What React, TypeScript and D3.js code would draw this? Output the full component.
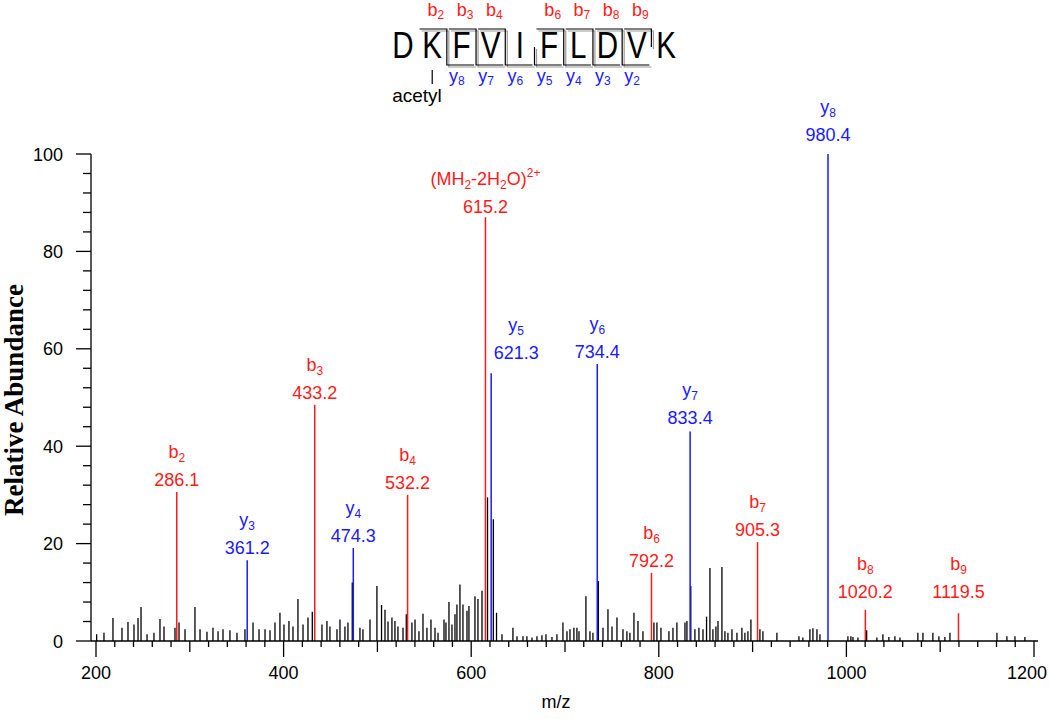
import React, { useEffect, useRef } from 'react';
import * as d3 from 'd3';

// peptide + fragment map
const sequence = ["D", "K", "F", "V", "I", "F", "L", "D", "V", "K"];
const bBreaks = [2, 3, 4, 6, 7, 8, 9];
const yBreaks = [2, 3, 4, 5, 6, 7, 8];

// annotated b ions
const bIonNames = ["b2", "b3", "b4", "b6", "b7", "b8", "b9"];
const bIonMz = [286.1, 433.2, 532.2, 792.2, 905.3, 1020.2, 1119.5];
const bIonAbundance = [30.6, 48.5, 30.0, 14.0, 20.3, 6.4, 5.7];

// annotated y ions
const yIonNames = ["y3", "y4", "y5", "y6", "y7", "y8"];
const yIonMz = [361.2, 474.3, 621.3, 734.4, 833.4, 980.4];
const yIonAbundance = [16.6, 19.1, 55.0, 56.9, 43.0, 100];

// doubly charged precursor - 2 H2O
const precursorMz = 615.2;
const precursorAbundance = 87.0;

// unannotated peaks
const noiseMz = [
  200.7, 208.5, 218.1, 227.7, 234.1, 240.5, 244.8, 248.0, 254.4, 261.8, 268.2, 272.5, 284.2, 288.5,
  294.9, 305.5, 310.9, 318.3, 324.7, 330.1, 335.4, 342.8, 350.3, 358.8, 367.4, 373.8, 380.2, 385.5,
  390.8, 396.1, 400.4, 405.7, 410.0, 415.3, 420.7, 426.0, 430.6, 440.9, 446.2, 449.4, 456.9, 460.1,
  465.4, 468.6, 473.2, 481.4, 484.6, 492.1, 499.5, 504.4, 508.1, 511.3, 515.5, 518.7, 521.9, 527.3,
  530.8, 536.8, 540.1, 544.3, 548.6, 552.8, 557.1, 561.4, 564.6, 571.0, 573.1, 576.3, 579.5, 582.7,
  584.8, 588.0, 591.2, 595.5, 597.6, 604.0, 607.2, 611.5, 617.4, 623.6, 627.0, 632.8, 644.5, 648.8,
  655.2, 659.4, 664.8, 670.1, 675.4, 679.7, 686.1, 691.4, 697.8, 702.1, 705.3, 709.5, 712.7, 714.9,
  722.3, 726.6, 729.8, 735.6, 740.5, 745.8, 750.1, 755.4, 761.8, 766.0, 769.2, 773.5, 777.8, 783.1,
  794.8, 798.0, 802.3, 810.8, 815.1, 819.3, 827.9, 830.0, 834.1, 838.5, 842.8, 847.1, 850.9, 854.5,
  857.7, 860.9, 863.1, 867.3, 870.5, 873.7, 878.0, 883.3, 888.6, 891.8, 895.0, 898.2, 907.8, 911.0,
  925.9, 949.4, 953.6, 961.1, 964.3, 968.6, 971.8, 1001.6, 1004.8, 1007.0, 1012.3, 1021.6, 1032.5,
  1038.9, 1045.3, 1051.7, 1057.1, 1076.2, 1081.6, 1092.2, 1098.6, 1105.0, 1110.4, 1160.5, 1171.1,
  1179.7, 1190.3,
];
const noiseAbundance = [
  1.4, 1.7, 4.7, 2.7, 3.9, 3.4, 4.7, 7.0, 1.4, 1.7, 4.5, 3.0, 2.7, 3.8,
  2.4, 7.0, 2.4, 1.9, 2.7, 2.0, 2.4, 2.2, 1.7, 2.4, 3.8, 2.4, 2.4, 2.2,
  3.8, 5.8, 3.4, 4.1, 3.0, 8.6, 3.4, 4.8, 6.0, 3.4, 4.1, 3.0, 2.4, 4.4,
  3.0, 3.8, 12.0, 2.7, 2.4, 4.4, 11.3, 7.4, 6.4, 4.0, 4.8, 4.1, 3.0, 2.7,
  5.5, 3.8, 4.4, 2.0, 5.6, 2.7, 4.4, 2.7, 1.7, 4.4, 3.8, 8.0, 3.4, 5.5,
  7.5, 11.6, 7.5, 6.2, 7.2, 9.2, 8.6, 10.3, 29.5, 25.0, 5.8, 1.4, 2.7, 1.0,
  1.0, 1.0, 0.7, 1.0, 1.2, 1.4, 0.8, 1.4, 3.8, 2.0, 2.4, 2.7, 2.7, 2.0,
  9.2, 2.0, 1.7, 12.3, 2.7, 6.5, 3.0, 4.8, 2.4, 2.0, 1.7, 5.8, 4.1, 2.0,
  3.8, 3.8, 2.7, 2.0, 2.7, 3.8, 3.8, 4.1, 11.3, 2.4, 2.7, 2.4, 5.0, 15.0,
  2.4, 3.0, 4.1, 15.2, 2.0, 1.7, 2.4, 1.7, 2.7, 1.7, 2.0, 4.4, 2.4, 2.0,
  1.7, 1.0, 0.7, 2.4, 2.6, 2.4, 1.4, 1.0, 1.0, 0.8, 0.7, 2.2, 0.7,
  1.4, 0.8, 1.0, 0.7, 1.7, 1.7, 1.7, 1.0, 0.8, 1.7, 1.7, 1.0,
  1.0, 0.8,
];

const xTicks = [200, 400, 600, 800, 1000, 1200];
const yTicks = [0, 20, 40, 60, 80, 100];

const RED = "#ff1a1a";
const BLUE = "#1a1aff";
const SANS = "'Liberation Sans', Arial, sans-serif";

// label nudges (collision avoidance in the original)
const labelNudge: Record<string, [number, number]> = {
  y5: [25, -8],
  y7: [0, -2],
  y8: [0, -7],
  pre: [0, 2],
};

export default function App() {
  const svgRef = useRef<SVGSVGElement>(null);

  useEffect(() => {
    if (!svgRef.current) return;
    const svg = d3.select(svgRef.current);
    svg.selectAll("*").remove();

    const x = d3.scaleLinear().domain([200, 1200]).range([96, 1034]);
    const y = d3.scaleLinear().domain([0, 100]).range([641, 154]);
    const axisX = 91;

    // noise peaks
    const noise = noiseMz.map((m, i) => ({ m, a: noiseAbundance[i] }));
    svg.append("g")
      .selectAll("line")
      .data(noise)
      .join("line")
      .attr("x1", d => x(d.m)).attr("x2", d => x(d.m))
      .attr("y1", y(0)).attr("y2", d => y(d.a))
      .attr("stroke", "#000").attr("stroke-width", 1.3);

    type Ion = { name: string; m: number; a: number; color: string };
    const ions: Ion[] = [
      ...bIonNames.map((n, i) => ({ name: n, m: bIonMz[i], a: bIonAbundance[i], color: RED })),
      ...yIonNames.map((n, i) => ({ name: n, m: yIonMz[i], a: yIonAbundance[i], color: BLUE })),
      { name: "pre", m: precursorMz, a: precursorAbundance, color: RED },
    ];

    svg.append("g")
      .selectAll("line")
      .data(ions)
      .join("line")
      .attr("x1", d => x(d.m)).attr("x2", d => x(d.m))
      .attr("y1", y(0)).attr("y2", d => y(d.a))
      .attr("stroke", d => d.color).attr("stroke-width", 1.5);

    // labels
    const lab = svg.append("g").attr("font-family", SANS).attr("font-size", 18).attr("text-anchor", "middle");
    ions.forEach(d => {
      const [dx, dy] = labelNudge[d.name] || [0, 0];
      const cx = x(d.m) + dx;
      const base = Math.min(y(d.a) - 6, y(10) + 6) + dy;
      lab.append("text").attr("x", cx).attr("y", base).attr("fill", d.color).text(d.m.toFixed(1));
      const t = lab.append("text").attr("x", cx).attr("y", base - 28).attr("fill", d.color);
      if (d.name === "pre") {
        t.append("tspan").text("(MH");
        t.append("tspan").attr("font-size", 12).attr("dy", 4).text("2");
        t.append("tspan").attr("dy", -4).text("-2H");
        t.append("tspan").attr("font-size", 12).attr("dy", 4).text("2");
        t.append("tspan").attr("dy", -4).text("O)");
        t.append("tspan").attr("font-size", 12).attr("dy", -8).text("2+");
      } else {
        t.append("tspan").text(d.name[0]);
        t.append("tspan").attr("font-size", 12).attr("dy", 4).text(d.name.slice(1));
      }
    });

    // y axis
    const ya = svg.append("g").attr("stroke", "#000").attr("stroke-width", 1.3);
    ya.append("line").attr("x1", axisX).attr("x2", axisX).attr("y1", y(100)).attr("y2", y(0));
    d3.range(0, 101, 4).forEach(v => {
      const major = v % 20 === 0;
      ya.append("line").attr("x1", axisX - (major ? 15 : 8)).attr("x2", axisX)
        .attr("y1", y(v)).attr("y2", y(v));
    });
    svg.append("g").attr("font-family", SANS).attr("font-size", 18).attr("text-anchor", "end")
      .selectAll("text").data(yTicks).join("text")
      .attr("x", 63).attr("y", d => y(d) + 6.5).text(d => d);

    // x axis
    const xa = svg.append("g").attr("stroke", "#000").attr("stroke-width", 1.3);
    xa.append("line").attr("x1", axisX).attr("x2", 1038).attr("y1", y(0)).attr("y2", y(0));
    d3.range(200, 1201, 20).forEach(v => {
      const len = v % 200 === 0 ? 16 : v % 100 === 0 ? 11 : 6;
      xa.append("line").attr("x1", x(v)).attr("x2", x(v)).attr("y1", y(0)).attr("y2", y(0) + len);
    });
    svg.append("g").attr("font-family", SANS).attr("font-size", 18).attr("text-anchor", "middle")
      .selectAll("text").data(xTicks).join("text")
      .attr("x", d => Math.min(x(d), 1027)).attr("y", 679).text(d => d);

    svg.append("text").attr("x", 556).attr("y", 708).attr("font-family", SANS).attr("font-size", 18)
      .attr("text-anchor", "middle").text("m/z");
    svg.append("text").attr("transform", "translate(23,400) rotate(-90)")
      .attr("font-family", "'Liberation Serif', 'Times New Roman', serif").attr("font-weight", "bold")
      .attr("font-size", 27).attr("text-anchor", "middle").text("Relative Abundance");

    // sequence header
    const seqX = d3.scaleLinear().domain([0, 9]).range([403, 666]);
    const step = seqX(1) - seqX(0);
    const hdr = svg.append("g");
    sequence.forEach((s, i) => {
      hdr.append("text").attr("transform", `translate(${seqX(i)},58) scale(0.8,1)`)
        .attr("font-family", SANS).attr("font-size", 37).attr("text-anchor", "middle").text(s);
    });
    const top = 29, mid = 47, bot = 65;
    const drawB = (k: number, color: string, off: number) => {
      const bx = seqX(k - 0.5) + off;
      hdr.append("path").attr("d", `M${bx - step + 2},${top + off}H${bx}V${mid + off}`)
        .attr("fill", "none").attr("stroke", color).attr("stroke-width", 1.2);
    };
    const drawY = (k: number, color: string, off: number) => {
      const bx = seqX(k - 0.5) + off;
      hdr.append("path").attr("d", `M${bx},${mid + off}V${bot + off}H${bx + step - 2}`)
        .attr("fill", "none").attr("stroke", color).attr("stroke-width", 1.2);
    };
    bBreaks.forEach(k => drawB(k, "#9a9a9a", 2));
    yBreaks.forEach(k => drawY(k, "#9a9a9a", 2));
    bBreaks.forEach(k => drawB(k, "#000", 0));
    yBreaks.forEach(k => drawY(k, "#000", 0));

    const hl = svg.append("g").attr("font-family", SANS).attr("font-size", 18).attr("text-anchor", "middle");
    bBreaks.forEach(k => {
      const t = hl.append("text").attr("x", seqX(k - 0.5) - 11).attr("y", 16).attr("fill", RED);
      t.append("tspan").text("b");
      t.append("tspan").attr("font-size", 12).attr("dy", 3).text(k);
    });
    yBreaks.forEach(k => {
      const t = hl.append("text").attr("x", seqX(k - 0.5) + 10).attr("y", 82).attr("fill", BLUE);
      t.append("tspan").text("y");
      t.append("tspan").attr("font-size", 12).attr("dy", 3).text(sequence.length - k);
    });

    // acetyl on K2
    hdr.append("line").attr("x1", seqX(1)).attr("x2", seqX(1)).attr("y1", 70).attr("y2", 84)
      .attr("stroke", "#000").attr("stroke-width", 1.2);
    svg.append("text").attr("x", 417).attr("y", 102).attr("font-family", SANS).attr("font-size", 19)
      .attr("text-anchor", "middle").text("acetyl");
  }, []);

  return (
    <svg
      ref={svgRef}
      width={1050}
      height={719}
      viewBox="0 0 1050 719"
      style={{ position: "absolute", left: 0, top: 0, background: "#fff" }}
    />
  );
}
